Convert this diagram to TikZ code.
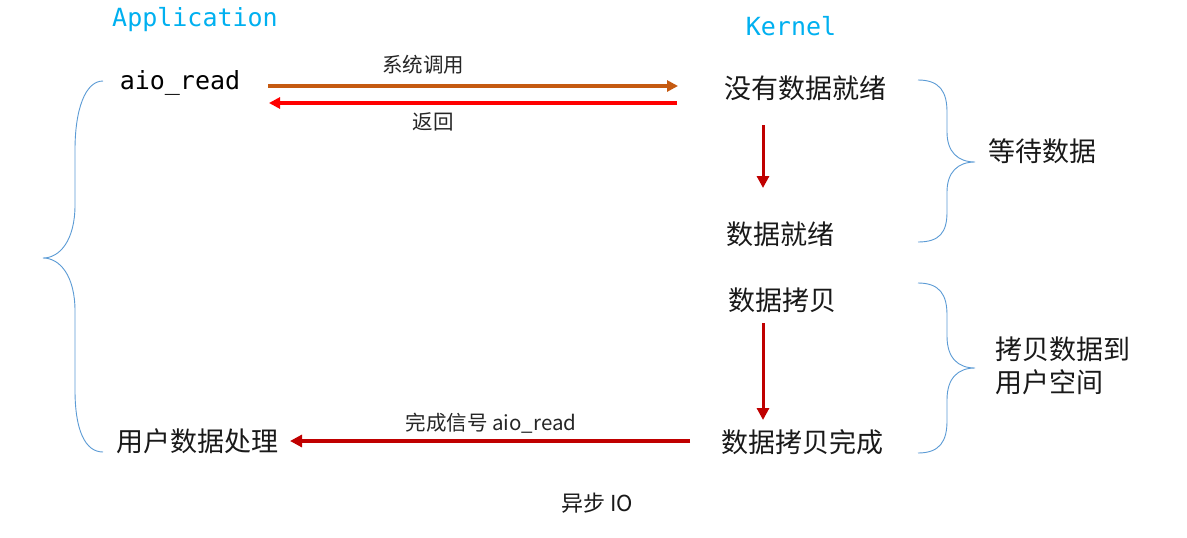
\documentclass[tikz,border=0pt]{standalone}
\usepackage{fontspec}
\setmainfont{Noto Sans CJK SC}
\newfontfamily\monof{DejaVu Sans Mono}
\usetikzlibrary{arrows.meta,calc}
\definecolor{cyantext}{HTML}{00B0F0}
\definecolor{bracec}{HTML}{5B9BD5}
\definecolor{orangec}{HTML}{C55A11}
\definecolor{redc}{HTML}{FF0000}
\definecolor{darkredc}{HTML}{C00000}
\tikzset{
  header/.style={font=\monof\fontsize{25}{28}\selectfont, text=cyantext, inner sep=0pt},
  codetxt/.style={font=\monof\fontsize{25}{28}\selectfont, text=black, inner sep=0pt},
  bigtxt/.style={font=\fontsize{27}{33}\selectfont, text=black!90, inner sep=0pt},
  smalltxt/.style={font=\fontsize{20.5}{24}\selectfont, text=black!85, inner sep=0pt},
  titletxt/.style={font=\fontsize{22}{26}\selectfont, text=black!90, inner sep=0pt},
  brace/.style={draw=bracec, line width=0.9pt},
  callarrow/.style={draw=orangec, line width=3.2pt, -{Triangle[length=11pt,width=11pt]}},
  retarrow/.style={draw=redc, line width=3.2pt, -{Triangle[length=11pt,width=11pt]}},
  flowarrow/.style={draw=darkredc, line width=3pt, -{Triangle[length=12pt,width=12pt]}},
  donearrow/.style={draw=darkredc, line width=4pt, -{Triangle[length=12pt,width=12pt]}},
}
\begin{document}
\begin{tikzpicture}[x=1pt,y=-1pt]
\useasboundingbox (0,0) rectangle (1187,538);
\fill[white] (0,0) rectangle (1187,538);
% headers
\node[header] (app) at (195,20) {Application};
\node[header] (kern) at (791,26) {Kernel};
% application side
\node[codetxt] (aio) at (180,83) {aio\_read};
\node[bigtxt] (proc) at (197,441) {用户数据处理};
% kernel side
\node[bigtxt] (nodata) at (805,88) {没有数据就绪};
\node[bigtxt] (ready) at (780,234) {数据就绪};
\node[bigtxt] (copy) at (782,300) {数据拷贝};
\node[bigtxt] (copydone) at (802,442) {数据拷贝完成};
% right labels
\node[bigtxt] (wait) at (1042,151) {等待数据};
\node[bigtxt, align=left, anchor=west] (tousr) at (995,366) {拷贝数据到\\用户空间};
% arrow labels
\node[smalltxt] (sys) at (423,65) {系统调用};
\node[smalltxt] (ret) at (433,122) {返回};
\node[smalltxt] (donelbl) at (491,423) {完成信号 aio\_read};
\node[titletxt] (title) at (597,503) {异步 IO};
% arrows
\draw[callarrow] ($(aio.center)+(88,3)$) -- ($(nodata.center)+(-127,-2)$);
\draw[retarrow] ($(nodata.center)+(-128,15)$) -- ($(aio.center)+(89,20)$);
\draw[flowarrow] ($(nodata.center)+(-42,37)$) -- ($(ready.center)+(-17,-46)$);
\draw[flowarrow] ($(copy.center)+(-19,23)$) -- ($(copydone.center)+(-39,-22)$);
\draw[donearrow] ($(copydone.center)+(-112,-1)$) -- ($(proc.center)+(93,0)$);
% braces
\draw[brace] (918,80) .. controls (940,80) and (947,92) .. (947,112) -- (947,132)
  .. controls (947,152) and (958,162) .. (975,162)
  .. controls (958,162) and (947,172) .. (947,192) -- (947,212)
  .. controls (947,232) and (940,242) .. (918,242);
\draw[brace] (918,283) .. controls (940,283) and (947,295) .. (947,315) -- (947,336)
  .. controls (947,358) and (958,368) .. (975,368)
  .. controls (958,368) and (947,378) .. (947,400) -- (947,421)
  .. controls (947,441) and (940,453) .. (918,453);
\draw[brace] (103,81) .. controls (85,81) and (75,110) .. (75,150) -- (75,205)
  .. controls (75,240) and (60,258) .. (43,258)
  .. controls (60,258) and (75,276) .. (75,311) -- (75,390)
  .. controls (75,430) and (85,452) .. (103,452);
\end{tikzpicture}
\end{document}
